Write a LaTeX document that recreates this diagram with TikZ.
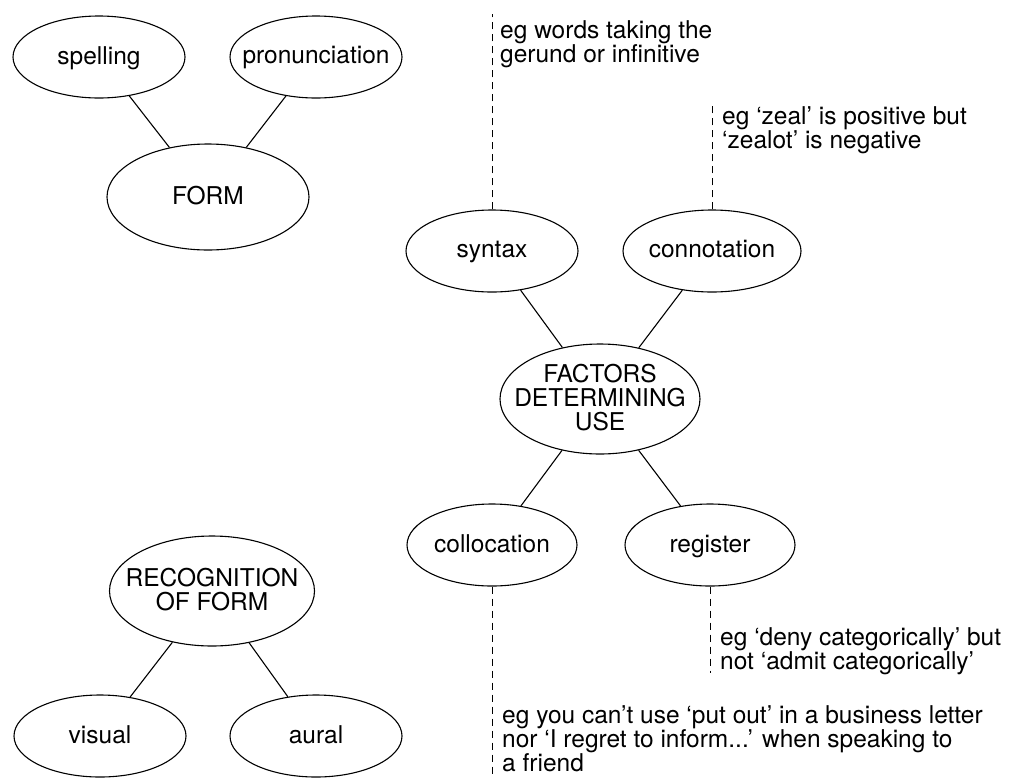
\documentclass[tikz,border=0pt]{standalone}
\usepackage{fontspec}
\setmainfont{TeX Gyre Heros}
\usetikzlibrary{shapes.geometric, positioning}

\newcommand{\btext}[1]{\makebox[0pt]{\smash{\raisebox{-8pt}{\begin{tabular}{@{}c@{}}#1\end{tabular}}}}}

\begin{document}
\begin{tikzpicture}[x=1pt, y=-1pt, on grid,
    font=\fontsize{24.5}{23}\selectfont,
    bubble/.style={ellipse, draw, line width=1.1pt, inner sep=0pt,
      minimum width=172pt, minimum height=82pt},
    hub/.style={minimum width=202pt, minimum height=110pt},
    link/.style={line width=1.1pt},
    hint/.style={line width=0.9pt, dash pattern=on 7pt off 5pt},
    note/.style={anchor=north west, inner sep=0pt, align=left}]
  \useasboundingbox (0,0) rectangle (1015,777);

  % form
  \node[bubble, hub, minimum height=106pt] (form) at (208,197) {\btext{FORM}};
  \node[bubble] (spelling) [above left=140pt and 109pt of form] {\btext{spelling}};
  \node[bubble] (pronunciation) [above right=140pt and 108pt of form] {\btext{pronunciation}};

  % factors determining use
  \node[bubble, hub, minimum width=200pt] (factors) at (600,399)
    {\btext{FACTORS\\[-1.5pt]DETERMINING\\[-1.5pt]USE}};
  \node[bubble] (syntax) [above left=148pt and 108pt of factors] {\btext{syntax}};
  \node[bubble, minimum width=178pt] (connotation) [above right=148pt and 112pt of factors] {\btext{connotation}};
  \node[bubble, minimum width=170pt] (collocation) [below left=146pt and 108pt of factors] {\btext{collocation}};
  \node[bubble, minimum width=170pt] (register) [below right=146pt and 110pt of factors] {\btext{register}};

  % recognition of form
  \node[bubble, hub, minimum width=205pt] (recognition) at (212,591) {\btext{RECOGNITION\\[-1.5pt]OF FORM}};
  \node[bubble] (visual) [below left=145pt and 112pt of recognition] {\btext{visual}};
  \node[bubble] (aural) [below right=145pt and 104pt of recognition] {\btext{aural}};

  \path[link]
    (form) edge (spelling)
           edge (pronunciation)
    (factors) edge (syntax)
              edge (connotation)
              edge (collocation)
              edge (register)
    (recognition) edge (visual)
                  edge (aural);

  % examples
  \path (syntax.north) ++(0,-195) coordinate (syntaxend);
  \path (connotation.north) ++(0,-105) coordinate (connotationend);
  \path (register.south) ++(0,86) coordinate (registerend);
  \path (collocation.south) ++(0,191) coordinate (collocationend);
  \draw[hint] (syntax) -- (syntaxend);
  \draw[hint] (connotation) -- (connotationend);
  \draw[hint] (register) -- (registerend);
  \draw[hint] (collocation) -- (collocationend);

  \node[note] (syntaxnote) at (500,20) {eg words taking the\\gerund or infinitive};
  \node[note] (connotationnote) at (722,106) {eg `zeal' is positive but\\`zealot' is negative};
  \node[note] (registernote) at (720,627) {eg `deny categorically' but\\not `admit categorically'};
  \node[note] (collocationnote) at (502,705) {eg you can't use `put out' in a business letter\\nor `I regret to inform...' when speaking to\\a friend};
\end{tikzpicture}
\end{document}
